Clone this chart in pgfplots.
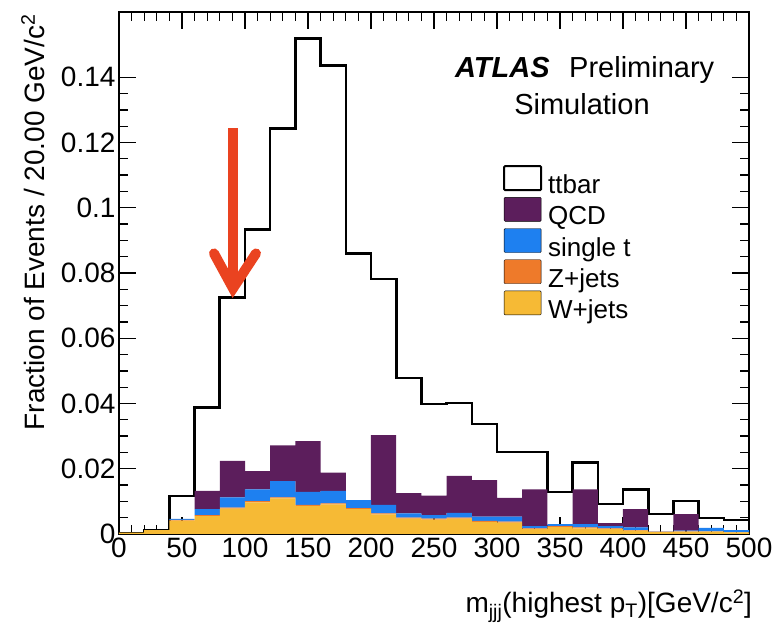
\documentclass[border=0pt]{standalone}
\usepackage{pgfplots}
\pgfplotsset{compat=1.18}
\usepackage{pgfplotstable}
\usepackage{fontspec}
\setmainfont{Liberation Sans}
\setsansfont{Liberation Sans}
\definecolor{qcd}{RGB}{92,30,92}
\definecolor{singlet}{RGB}{30,128,240}
\definecolor{zjets}{RGB}{238,122,42}
\definecolor{wjets}{RGB}{246,186,53}
\definecolor{arrowred}{RGB}{234,67,32}

\pgfplotstableread{
lo  ttbar
0   0.0003
20  0.0012
40  0.0116
60  0.0387
80  0.0725
100 0.0934
120 0.1243
140 0.1518
160 0.1436
180 0.0860
200 0.0782
220 0.0478
240 0.0398
260 0.0401
280 0.0337
300 0.0251
320 0.0251
340 0.0129
360 0.0220
380 0.0092
400 0.0137
420 0.0061
440 0.0101
460 0.0049
480 0.0043
500 0.0043
}\ttbartab

\pgfplotstableread{
c   W      Z      T      Q
10  0.0004 0      0      0
30  0.0012 0      0      0
50  0.0041 0.0002 0.0003 0
70  0.0055 0.0003 0.0018 0.0056
90  0.0078 0.0003 0.0031 0.0112
110 0.0097 0.0004 0.0036 0.0056
130 0.0109 0.0003 0.0050 0.0110
150 0.0086 0.0003 0.0040 0.0156
170 0.0091 0.0003 0.0038 0.0056
190 0.0076 0.0003 0.0025 0
210 0.0060 0.0003 0.0026 0.0214
230 0.0047 0.0003 0.0013 0.0062
250 0.0044 0.0003 0.0011 0.0060
270 0.0047 0.0003 0.0015 0.0113
290 0.0037 0.0003 0.0013 0.0112
310 0.0035 0.0003 0.0015 0.0058
330 0.0015 0.0002 0.0007 0.0113
350 0.0021 0.0003 0.0006 0
370 0.0017 0.0003 0.0010 0.0107
390 0.0015 0.0002 0.0007 0.0009
410 0.0010 0.0002 0.0008 0.0056
430 0.0006 0.0001 0.0001 0
450 0.0007 0.0001 0.0002 0.0051
470 0.0007 0.0001 0.0011 0
490 0.0005 0.0001 0.0006 0
}\bkgtab

\pgfplotsset{histleg/.style={legend image code/.code={\draw[##1, rounded corners=1pt] (0pt,-3pt) rectangle (37pt,21pt);}}}

\begin{document}
\begin{tikzpicture}
\begin{axis}[
  scale only axis, width=630pt, height=522pt,
  xmin=0, xmax=500, ymin=0, ymax=0.16,
  xtick={0,50,100,150,200,250,300,350,400,450,500},
  ytick={0,0.02,0.04,0.06,0.08,0.1,0.12,0.14},
  minor x tick num=4, minor y tick num=3,
  tick align=inside, xtick pos=both, ytick pos=both,
  major tick length=17pt, minor tick length=9pt,
  every tick/.style={black, line width=1.3pt},
  axis line style={line width=1.3pt},
  scaled y ticks=false,
  yticklabel style={/pgf/number format/fixed, /pgf/number format/precision=2},
  /pgf/number format/assume math mode=true,
  tick label style={font=\fontsize{28}{32}\selectfont},
  xlabel={m\textsubscript{jjj}(highest p\textsubscript{T})[GeV/c\textsuperscript{2}]},
  ylabel={Fraction of Events / 20.00 GeV/c\textsuperscript{2}},
  every axis x label/.style={at={(axis description cs:1.005,-0.151)}, anchor=base east, inner sep=0pt, font=\fontsize{28}{32}\selectfont},
  every axis y label/.style={at={(axis description cs:-0.119,0.996)}, rotate=90, anchor=base east, inner sep=0pt, font=\fontsize{28}{32}\selectfont},
]
\addplot[const plot mark left, black, line width=2.6pt, line join=miter] table[x=lo,y=ttbar]{\ttbartab};
\end{axis}
\begin{axis}[
  scale only axis, width=630pt, height=522pt,
  xmin=0, xmax=500, ymin=0, ymax=0.16,
  hide axis, ybar stacked, bar width=20.05,
  reverse legend, legend cell align=left,
  legend style={at={(axis description cs:0.6095,0.707)}, anchor=north west, draw=none, fill=none, inner sep=0pt, row sep=-2.5pt, font=\fontsize{26}{30}\selectfont, nodes={inner xsep=2pt, inner ysep=0pt, text height=19pt, text depth=6pt}, /tikz/every odd column/.append style={column sep=4pt}},
]
\addplot[fill=wjets, draw=none, histleg] table[x=c,y=W]{\bkgtab};
\addplot[fill=zjets, draw=none, histleg] table[x=c,y=Z]{\bkgtab};
\addplot[fill=singlet, draw=none, histleg] table[x=c,y=T]{\bkgtab};
\addplot[fill=qcd, draw=none, histleg] table[x=c,y=Q]{\bkgtab};
\addlegendimage{histleg, draw=black, line width=2pt, fill=white}
\legend{W+jets, Z+jets, single t, QCD, ttbar}
\draw[arrowred, line width=10pt] (axis cs:90.5,0.1243) -- (axis cs:90.5,0.078);
\draw[arrowred, line width=10pt, line cap=round, line join=miter] (axis cs:75.4,0.0860) -- (axis cs:90.5,0.0753) -- (axis cs:108.7,0.0860);
\end{axis}
\node[anchor=base west, inner sep=0pt, font=\fontsize{29}{34}\selectfont] at (336pt,456pt) {\textbf{\textit{ATLAS}}};
\node[anchor=base west, inner sep=0pt, font=\fontsize{29}{34}\selectfont] at (450pt,456pt) {Preliminary};
\node[anchor=base, inner sep=0pt, font=\fontsize{29}{34}\selectfont] at (463pt,419pt) {Simulation};
\path (-119pt,-95pt) rectangle (660pt,534pt);
\end{tikzpicture}
\end{document}
